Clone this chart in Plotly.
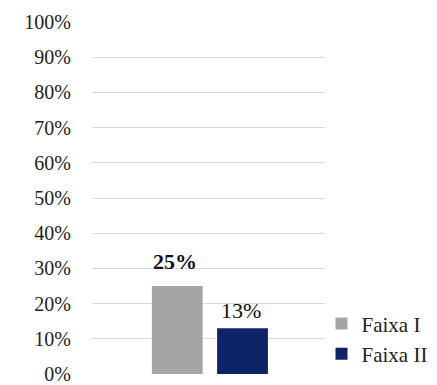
import plotly.graph_objects as go

series_names = ["Faixa I", "Faixa II"]
series_values = [0.25, 0.13]
series_colors = ["#a5a5a5", "#0e2466"]
label_bold = [True, False]
tick_vals = [i / 10 for i in range(11)]
tick_text = [f"{i * 10}%" for i in range(11)]

FONT = "Liberation Serif, Times New Roman, serif"

# horizontal placement of the two bars inside the single group (axis units)
bar_width = 0.218
bar_offsets = [-0.243, 0.037]
label_shift = [25, 18]

fig = go.Figure()
for name, v, color, off in zip(series_names, series_values, series_colors, bar_offsets):
    fig.add_trace(go.Bar(
        x=[0], y=[v], name=name, width=bar_width, offset=off,
        marker=dict(color=color, line=dict(width=0)), hoverinfo="skip",
    ))

# value labels above each bar
for v, bold, off, dy in zip(series_values, label_bold, bar_offsets, label_shift):
    txt = f"{round(v * 100)}%"
    if bold:
        txt = f"<b>{txt}</b>"
    fig.add_annotation(
        x=off + bar_width / 2, y=v, text=txt, showarrow=False,
        xref="x", yref="y", yshift=dy, yanchor="middle", xshift=-2,
        font=dict(family=FONT, size=22, color="#111111"),
    )

fig.update_layout(
    width=437, height=385,
    margin=dict(l=92, r=112, t=22, b=11, autoexpand=False),
    paper_bgcolor="white", plot_bgcolor="white",
    font=dict(family=FONT, size=20, color="#222222"),
    showlegend=True,
    legend=dict(x=0.985, y=0.1, xanchor="left", yanchor="middle",
                font=dict(family=FONT, size=21, color="#222222"),
                itemwidth=30, tracegroupgap=0, bgcolor="rgba(0,0,0,0)"),
    xaxis=dict(range=[-0.5, 0.5], showticklabels=False, showgrid=False,
               zeroline=False, showline=False, automargin=False),
    yaxis=dict(range=[0, 1], tickvals=tick_vals, ticktext=tick_text,
               showgrid=True, gridcolor="#d9d9d9", gridwidth=1,
               zeroline=False, showline=False, ticks="", ticklabelstandoff=20,
               automargin=False,
               tickfont=dict(family=FONT, size=20, color="#222222")),
)

fig.write_html("out.html")
